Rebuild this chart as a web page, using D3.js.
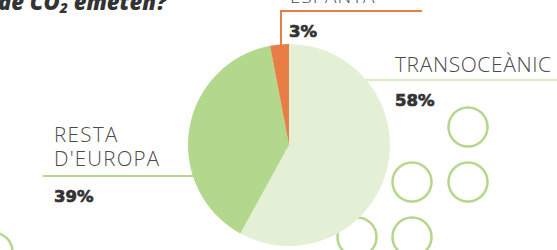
<!DOCTYPE html>
<html>
<head>
<meta charset="utf-8">
<script src="https://cdn.jsdelivr.net/npm/d3@7"></script>
<style>
  body { margin: 0; background: #fff; }
  svg { display: block; }
  .lbl { font-family: "Open Sans", "Noto Sans", sans-serif; font-weight: 300; fill: #4a4a4a; }
  .pct { font-family: "DejaVu Sans", sans-serif; font-weight: bold; fill: #333; stroke: #333; stroke-width: 0.7; }
  .title { font-family: "Open Sans", "Noto Sans", sans-serif; font-weight: 800; font-style: italic; fill: #333; }
</style>
</head>
<body>
<svg id="chart" width="557" height="250"></svg>
<script>
"use strict";

// slices, clockwise from 12 o'clock
const categories = ["TRANSOCEÀNIC", "RESTA D'EUROPA", "ESPANYA"];
const values = [58, 39, 3];
const pctLabels = ["58%", "39%", "3%"];
const colors = ["#e3f0d6", "#b3d78c", "#e87d45"];

const W = 557, H = 250;
const svg = d3.select("#chart");

// pie geometry
const cx = 289, cy = 145, radius = 101;

// decorative ring outlines
const rings = [[468, 127], [468, 182], [412, 182], [412, 237], [357, 237], [-7, 252]];
svg.append("g")
    .selectAll("circle")
    .data(rings)
    .enter()
    .append("circle")
    .attr("cx", d => d[0])
    .attr("cy", d => d[1])
    .attr("r", 19.5)
    .attr("fill", "none")
    .attr("stroke", "#b3d78c")
    .attr("stroke-width", 2.5);

// title (cut off at top)
const title = svg.append("text")
    .attr("class", "title")
    .attr("x", -2)
    .attr("y", 10)
    .attr("font-size", 22);
title.append("tspan").text("de CO");
title.append("tspan").attr("font-size", 14).attr("dy", 3).text("2");
title.append("tspan").attr("dy", -3).text(" emeten?");

// leader lines
const lines = svg.append("g").attr("fill", "none").attr("stroke-width", 2);
lines.append("line")
    .attr("x1", 363).attr("x2", W).attr("y1", 80).attr("y2", 80)
    .attr("stroke", "#d9eac6");
lines.append("line")
    .attr("x1", 43).attr("x2", 195).attr("y1", 176).attr("y2", 176)
    .attr("stroke", "#b3d78c");
lines.append("polyline")
    .attr("points", "281,50 281,11 422,11")
    .attr("stroke", "#e87d45");

// pie
const pie = d3.pie().sort(null).value(d => d);
const arc = d3.arc().innerRadius(0).outerRadius(radius);
svg.append("g")
    .attr("transform", `translate(${cx},${cy})`)
    .selectAll("path")
    .data(pie(values))
    .enter()
    .append("path")
    .attr("d", arc)
    .attr("fill", (d, i) => colors[i]);

// labels
svg.append("text").attr("class", "lbl").attr("x", 395).attr("y", 72)
    .attr("font-size", 21).attr("letter-spacing", 0.6).text(categories[0]);
svg.append("text").attr("class", "pct").attr("x", 395).attr("y", 106)
    .attr("font-size", 16.5).text(pctLabels[0]);

const resta = categories[1].split(" ");
svg.append("text").attr("class", "lbl").attr("x", 54).attr("y", 142)
    .attr("font-size", 20.5).attr("letter-spacing", 1.4).text(resta[0]);
svg.append("text").attr("class", "lbl").attr("x", 54).attr("y", 166)
    .attr("font-size", 20.5).attr("letter-spacing", 1.2).text(resta[1]);
svg.append("text").attr("class", "pct").attr("x", 54).attr("y", 202)
    .attr("font-size", 16.5).text(pctLabels[1]);

svg.append("text").attr("class", "lbl").attr("x", 290).attr("y", 3)
    .attr("font-size", 19).attr("letter-spacing", 1).text(categories[2]);
svg.append("text").attr("class", "pct").attr("x", 289).attr("y", 37)
    .attr("font-size", 16.5).text(pctLabels[2]);
</script>
</body>
</html>
